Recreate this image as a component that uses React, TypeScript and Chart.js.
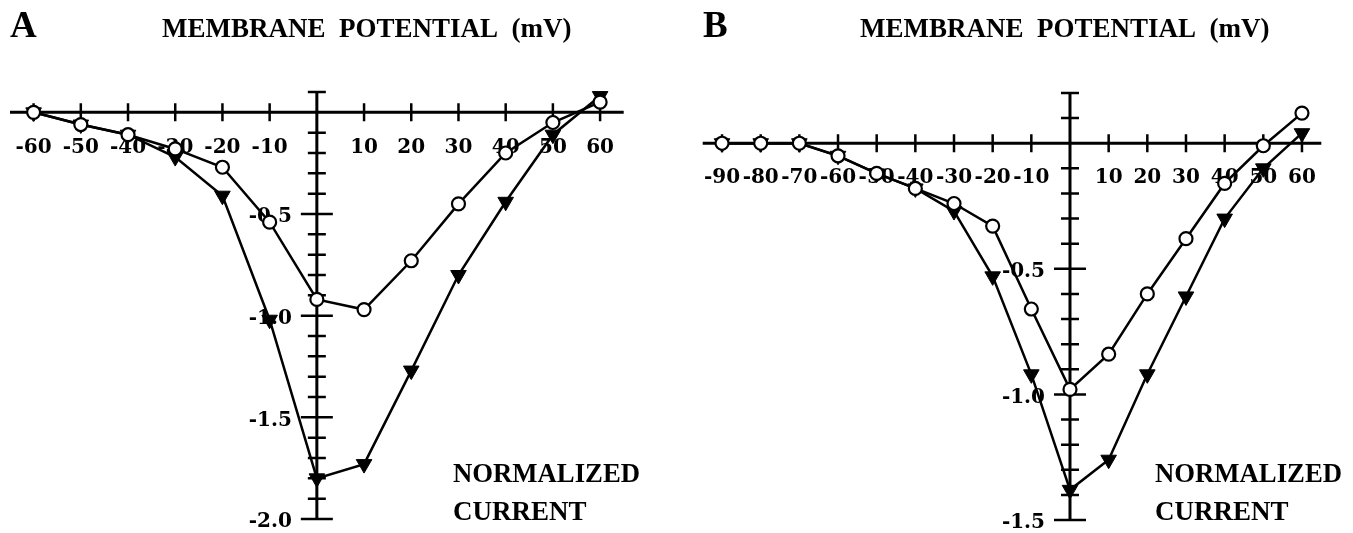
import React, { useEffect, useRef } from 'react';
import { Chart, registerables } from 'chart.js';

Chart.register(...registerables);

const W = 1353;
const H = 533;

// ---- Panel A data ----
const voltageA = [-60, -50, -40, -30, -20, -10, 0, 10, 20, 30, 40, 50, 60];
const openA = [0.0, -0.06, -0.11, -0.18, -0.27, -0.54, -0.92, -0.97, -0.73, -0.45, -0.2, -0.05, 0.05];
const filledA = [0.0, -0.06, -0.11, -0.22, -0.41, -1.02, -1.8, -1.73, -1.27, -0.8, -0.44, -0.11, 0.08];
const xTicksA = [-60, -50, -40, -30, -20, -10, 10, 20, 30, 40, 50, 60];
const yLabelsA = [-0.5, -1.0, -1.5, -2.0];

// ---- Panel B data ----
const voltageB = [-90, -80, -70, -60, -50, -40, -30, -20, -10, 0, 10, 20, 30, 40, 50, 60];
const openB = [0.0, 0.0, 0.0, -0.05, -0.12, -0.18, -0.24, -0.33, -0.66, -0.98, -0.84, -0.6, -0.38, -0.16, -0.01, 0.12];
const filledB = [0.0, 0.0, 0.0, -0.05, -0.12, -0.18, -0.27, -0.53, -0.92, -1.38, -1.26, -0.92, -0.61, -0.3, -0.1, 0.04];
const xTicksB = [-90, -80, -70, -60, -50, -40, -30, -20, -10, 10, 20, 30, 40, 50, 60];
const yLabelsB = [-0.5, -1.0, -1.5];

const TITLE = 'MEMBRANE  POTENTIAL  (mV)';
const NOTE1 = 'NORMALIZED';
const NOTE2 = 'CURRENT';

type PanelCfg = {
  voltage: number[];
  open: number[];
  filled: number[];
  xTicks: number[];
  yLabels: number[];
  xMin: number;
  xMax: number;
  yMin: number;
  yMax: number;
  padding: { left: number; right: number; top: number; bottom: number };
  letter: string;
  letterX: number;
  titleX: number;
  noteX: number;
};

const panelA: PanelCfg = {
  voltage: voltageA,
  open: openA,
  filled: filledA,
  xTicks: xTicksA,
  yLabels: yLabelsA,
  xMin: -65,
  xMax: 65,
  yMin: -2.0,
  yMax: 0.1,
  padding: { left: 7.3, right: W - 623.7, top: 92, bottom: H - 519 },
  letter: 'A',
  letterX: 10,
  titleX: 162,
  noteX: 453,
};

const panelB: PanelCfg = {
  voltage: voltageB,
  open: openB,
  filled: filledB,
  xTicks: xTicksB,
  yLabels: yLabelsB,
  xMin: -95,
  xMax: 65,
  yMin: -1.5,
  yMax: 0.2,
  padding: { left: 702.7, right: W - 1321.3, top: 93, bottom: H - 520 },
  letter: 'B',
  letterX: 703,
  titleX: 860,
  noteX: 1155,
};

function makeAxisPlugin(cfg: PanelCfg) {
  return {
    id: 'crossAxes',
    beforeDatasetsDraw(chart: any) {
      const ctx = chart.ctx as CanvasRenderingContext2D;
      const xs = chart.scales.x;
      const ys = chart.scales.y;
      const y0 = ys.getPixelForValue(0);
      const x0 = xs.getPixelForValue(0);
      ctx.save();
      ctx.strokeStyle = '#000';
      ctx.fillStyle = '#000';
      ctx.lineCap = 'butt';
      ctx.lineWidth = 3;
      // axes lines
      ctx.beginPath();
      ctx.moveTo(xs.left, y0);
      ctx.lineTo(xs.right, y0);
      ctx.moveTo(x0, ys.top);
      ctx.lineTo(x0, ys.bottom);
      ctx.stroke();
      // x ticks
      ctx.lineWidth = 2.5;
      ctx.beginPath();
      for (const v of cfg.xTicks) {
        const px = xs.getPixelForValue(v);
        ctx.moveTo(px, y0 - 9);
        ctx.lineTo(px, y0 + 9);
      }
      // y ticks every 0.1, major every 0.5
      const n = Math.round((cfg.yMax - cfg.yMin) / 0.1);
      for (let i = 0; i <= n; i++) {
        const v = cfg.yMin + i * 0.1;
        if (Math.abs(v) < 1e-6) continue;
        const major = Math.abs(v * 2 - Math.round(v * 2)) < 1e-6;
        const len = major ? 16 : 9;
        const py = ys.getPixelForValue(v);
        ctx.moveTo(x0 - len, py);
        ctx.lineTo(x0 + len, py);
      }
      ctx.stroke();
      // tick labels
      ctx.font = 'bold 20px "DejaVu Serif"';
      ctx.textAlign = 'center';
      ctx.textBaseline = 'middle';
      for (const v of cfg.xTicks) {
        ctx.fillText(String(v), xs.getPixelForValue(v), y0 + 35);
      }
      ctx.textAlign = 'right';
      for (const v of cfg.yLabels) {
        ctx.fillText(v.toFixed(1), x0 - 25, ys.getPixelForValue(v) + 3);
      }
      // titles
      ctx.textAlign = 'left';
      ctx.textBaseline = 'alphabetic';
      ctx.font = 'bold 37px "Liberation Serif"';
      ctx.fillText(cfg.letter, cfg.letterX, 37);
      ctx.font = 'bold 27px "Liberation Serif"';
      ctx.fillText(TITLE, cfg.titleX, 37, 411);
      ctx.fillText(NOTE1, cfg.noteX, 482, 187);
      ctx.fillText(NOTE2, cfg.noteX, 520);
      ctx.restore();
    },
  };
}

function Panel({ cfg }: { cfg: PanelCfg }) {
  const ref = useRef<HTMLCanvasElement>(null);
  useEffect(() => {
    const canvas = ref.current;
    if (!canvas) return;
    const chart = new Chart(canvas, {
      type: 'scatter',
      data: {
        datasets: [
          {
            label: 'open',
            data: cfg.voltage.map((v, i) => ({ x: v, y: cfg.open[i] })),
            showLine: true,
            borderColor: '#000',
            borderWidth: 2.5,
            pointStyle: 'circle',
            pointRadius: 6.5,
            pointBackgroundColor: '#fff',
            pointBorderColor: '#000',
            pointBorderWidth: 2.2,
            clip: false,
            order: 0,
          },
          {
            label: 'filled',
            data: cfg.voltage.map((v, i) => ({ x: v, y: cfg.filled[i] })),
            showLine: true,
            borderColor: '#000',
            borderWidth: 2.5,
            pointStyle: 'triangle',
            pointRotation: 180,
            pointRadius: 9,
            pointBackgroundColor: '#000',
            pointBorderColor: '#000',
            pointBorderWidth: 1,
            clip: false,
            order: 1,
          },
        ],
      },
      options: {
        responsive: false,
        animation: false,
        devicePixelRatio: 1,
        events: [],
        layout: { padding: cfg.padding },
        plugins: {
          legend: { display: false },
          tooltip: { enabled: false },
          title: { display: false },
        },
        scales: {
          x: { type: 'linear', min: cfg.xMin, max: cfg.xMax, display: false },
          y: { type: 'linear', min: cfg.yMin, max: cfg.yMax, display: false },
        },
      },
      plugins: [makeAxisPlugin(cfg)],
    } as any);
    return () => chart.destroy();
  }, [cfg]);
  return (
    <canvas
      ref={ref}
      width={W}
      height={H}
      style={{ position: 'absolute', left: 0, top: 0, width: W, height: H }}
    />
  );
}

export default function App() {
  return (
    <div style={{ position: 'absolute', left: 0, top: 0, width: W, height: H, background: '#fff' }}>
      <Panel cfg={panelA} />
      <Panel cfg={panelB} />
    </div>
  );
}
